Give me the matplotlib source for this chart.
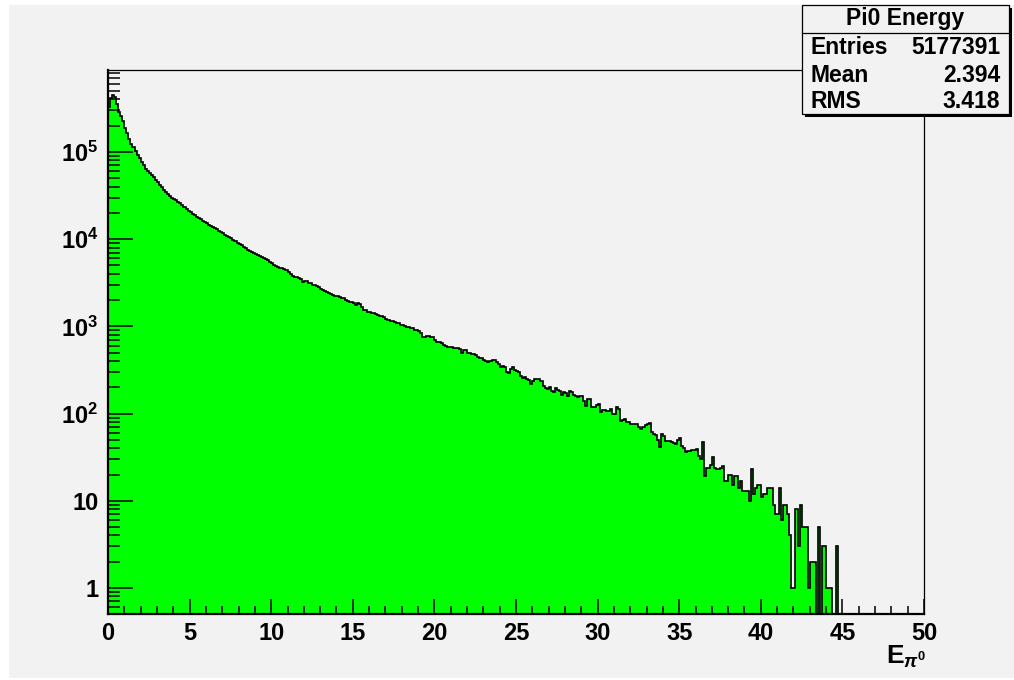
import numpy as np
import matplotlib
matplotlib.use('Agg')
import matplotlib.pyplot as plt
from matplotlib import ticker
from matplotlib.patches import Rectangle
from matplotlib.lines import Line2D

plt.rcParams['font.family'] = ['Liberation Sans', 'DejaVu Sans']
plt.rcParams['font.weight'] = 'bold'
plt.rcParams['mathtext.fontset'] = 'custom'
plt.rcParams['mathtext.rm'] = 'Liberation Sans:bold'
plt.rcParams['mathtext.bf'] = 'Liberation Sans:bold'
plt.rcParams['mathtext.it'] = 'Liberation Sans:italic'

# histogram: 400 bins from 0 to 50, counts (one row = 1 unit of E)
x_lo, x_hi, n_bins = 0, 50, 400
counts = [
    330000, 420000, 455000, 430000, 350000, 290000, 255000, 225000,
    190000, 165000, 140000, 124000, 113000, 102000, 93000, 85000,
    77000, 70000, 64000, 60000, 57000, 54000, 51000, 48000,
    45000, 42000, 39500, 37000, 35000, 33000, 31500, 30000,
    28800, 27800, 26800, 25700, 24600, 23400, 22200, 21300,
    20400, 19600, 18800, 18000, 17400, 16800, 16300, 15900,
    15400, 14700, 14200, 13700, 13300, 12900, 12400, 12000,
    11700, 11300, 10900, 10500, 10200, 9800, 9400, 9100,
    8800, 8500, 8200, 7900, 7600, 7400, 7100, 6900,
    6750, 6550, 6400, 6200, 6050, 5900, 5750, 5500,
    5300, 5100, 4950, 4800, 4700, 4630, 4500, 4400,
    4250, 4000, 3780, 3680, 3680, 3550, 3450, 3250,
    3280, 3310, 3170, 3120, 2980, 2980, 2880, 2800,
    2660, 2600, 2530, 2460, 2400, 2350, 2300, 2240,
    2200, 2180, 2120, 2090, 2000, 1940, 1920, 1890,
    1860, 1750, 1870, 1790, 1670, 1560, 1530, 1480,
    1480, 1440, 1410, 1380, 1360, 1330, 1300, 1280,
    1220, 1190, 1160, 1160, 1130, 1100, 1090, 1050,
    1030, 1000, 990, 980, 950, 945, 920, 915,
    875, 830, 760, 760, 780, 780, 745, 745,
    695, 670, 670, 640, 610, 600, 585, 585,
    585, 570, 563, 558, 548, 490, 535, 535,
    490, 490, 481, 481, 470, 441, 434, 434,
    411, 397, 387, 404, 411, 411, 387, 370,
    339, 354, 339, 297, 289, 324, 339, 315,
    305, 297, 272, 256, 265, 249, 242, 218,
    238, 249, 249, 247, 238, 209, 196, 191,
    200, 183, 175, 196, 186, 180, 165, 175,
    174, 159, 180, 175, 165, 157, 154, 161,
    161, 141, 123, 147, 147, 118, 118, 125,
    130, 103, 110, 110, 108, 108, 112, 99,
    100, 118, 112, 83, 84, 86, 80, 80,
    76, 76, 76, 76, 70, 66, 70, 73,
    75, 77, 62, 59, 57, 50, 41, 59,
    55, 49, 49, 49, 47, 46, 45, 50,
    52, 43, 40, 36, 37, 37, 38, 38,
    39, 33, 30, 47, 19, 24, 24, 26,
    32, 24, 23, 23, 24, 25, 17, 17,
    20, 20, 15, 19, 19, 14, 17, 13,
    13, 13, 10, 23, 12, 14, 15, 15,
    11, 12, 12, 14, 14, 14, 9, 7,
    7, 14, 6, 9, 9, 7, 4, 1,
    1, 8, 3, 9, 5, 5, 5, 1,
    2, 2, 2, 0, 5, 0, 3, 3,
    1, 1, 1, 0, 0, 3, 0, 0,
] + [0] * 40

stats_title = 'Pi0 Energy'
stats_names = ['Entries', 'Mean', 'RMS']
stats_values = ['5177391', '2.394', '3.418']

xtick_values = [0, 5, 10, 15, 20, 25, 30, 35, 40, 45, 50]
ytick_values = [1, 10, 100, 1000, 10000, 100000]
ytick_labels = ['1', '10', r'$\mathbf{10^{2}}$', r'$\mathbf{10^{3}}$',
                r'$\mathbf{10^{4}}$', r'$\mathbf{10^{5}}$']
x_title = r'$\mathbf{E}_{\pi^{0}}$'

W, H = 1014, 680
gray = '#f2f2f2'


def fx(px):
    return px / W


def fy(py):
    return 1 - py / H


fig = plt.figure(figsize=(W / 100, H / 100), dpi=100, facecolor='white')
fig.add_artist(Rectangle((fx(9), fy(678)), 1 - fx(9), 673 / H, transform=fig.transFigure,
                         facecolor=gray, edgecolor='none', zorder=-10))

ax = fig.add_axes([fx(108), fy(614), (924 - 108) / W, (614 - 70) / H])
ax.set_facecolor(gray)
ax.set_yscale('log')

edges = np.linspace(x_lo, x_hi, n_bins + 1)
counts = np.array(counts, dtype=float)
base = 1e-2
drawn = np.where(counts > 0, counts, base)
ax.stairs(drawn, edges, baseline=base, fill=True, color='#00ff00', lw=0)
ax.stairs(drawn, edges, baseline=base, color='black', lw=1.2)

ax.set_xlim(x_lo, x_hi)
ax.set_ylim(0.503, 8.7e5)

ax.xaxis.set_major_locator(ticker.FixedLocator(xtick_values))
ax.xaxis.set_minor_locator(ticker.MultipleLocator(1))
ax.yaxis.set_major_locator(ticker.FixedLocator(ytick_values))
ax.yaxis.set_minor_locator(ticker.LogLocator(base=10, subs=np.arange(2, 10), numticks=30))
ax.yaxis.set_minor_formatter(ticker.NullFormatter())
ax.set_yticklabels(ytick_labels)

ax.tick_params(axis='y', which='major', direction='in', length=18, width=1.1, pad=7, labelsize=17)
ax.tick_params(axis='y', which='minor', direction='in', length=8.6, width=1.1)
ax.tick_params(axis='x', which='major', direction='in', length=11, width=1.1, pad=6, labelsize=17)
ax.tick_params(axis='x', which='minor', direction='in', length=5.5, width=1.1)

for side in ['left', 'bottom']:
    ax.spines[side].set_linewidth(1.6)
for side in ['top', 'right']:
    ax.spines[side].set_linewidth(0.9)

fig.text(fx(926), fy(664), x_title, ha='right', va='baseline', fontsize=19)

# stats box, top right
box_l, box_r, box_t, box_b = 802, 1009, 5, 114
fig.add_artist(Rectangle((fx(box_l + 3), fy(box_b + 3)), (box_r - box_l) / W, (box_b - box_t) / H,
                         transform=fig.transFigure, facecolor='black', edgecolor='none', zorder=10))
fig.add_artist(Rectangle((fx(box_l), fy(box_b)), (box_r - box_l) / W, (box_b - box_t) / H,
                         transform=fig.transFigure, facecolor=gray, edgecolor='black', lw=0.9, zorder=11))
fig.add_artist(Line2D([fx(box_l), fx(box_r)], [fy(33), fy(33)], transform=fig.transFigure,
                      color='black', lw=0.9, zorder=12))
fig.text(fx((box_l + box_r) / 2), fy(18), stats_title, ha='center', va='center', fontsize=16.5, zorder=13)
for name, value, py in zip(stats_names, stats_values, [48, 75, 101]):
    fig.text(fx(811), fy(py), name, ha='left', va='center', fontsize=16.5, zorder=13)
    fig.text(fx(1000), fy(py), value, ha='right', va='center', fontsize=16.5, zorder=13)

plt.savefig('out.png', dpi=100, facecolor=fig.get_facecolor())
